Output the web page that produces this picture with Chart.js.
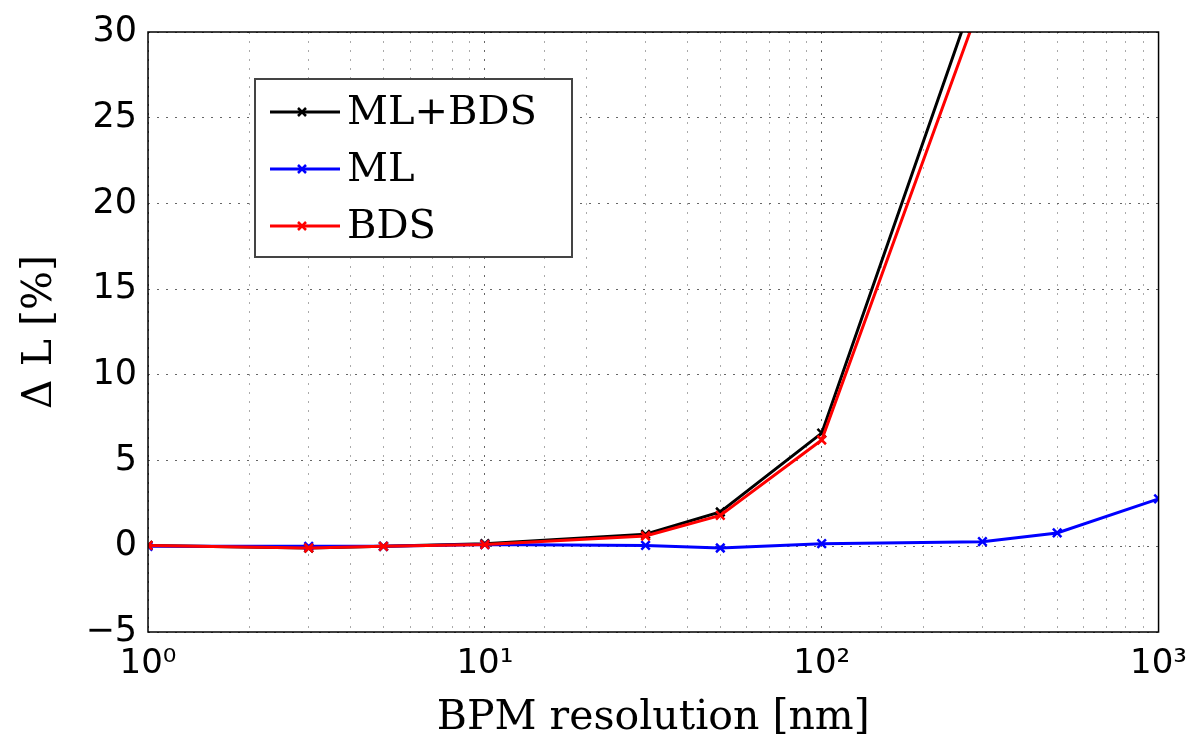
<!DOCTYPE html>
<html>
<head>
<meta charset="utf-8">
<script src="https://cdn.jsdelivr.net/npm/chart.js@4.4.0/dist/chart.umd.min.js"></script>
<style>
  body { margin: 0; background: #fff; }
  #wrap { width: 1199px; height: 748px; }
</style>
</head>
<body>
<div id="wrap"><canvas id="luminosity"></canvas></div>
<script>
// BPM resolution [nm]
const resolution = [1, 3, 5, 10, 30, 50, 100, 300, 500, 1000];
const resolutionBDS = [1, 3, 5, 10, 30, 50, 100, 300];

// luminosity loss [%]
const lossMLBDS = [0.05, -0.1, 0.0, 0.15, 0.7, 2.0, 6.6, 33.5];
const lossML = [0.0, 0.0, 0.0, 0.1, 0.05, -0.1, 0.15, 0.27, 0.78, 2.77];
const lossBDS = [0.05, -0.1, 0.0, 0.1, 0.6, 1.8, 6.2, 32.0];

const yTicks = [-5, 0, 5, 10, 15, 20, 25, 30];
const supers = { 0: '\u2070', 1: '\u00b9', 2: '\u00b2', 3: '\u00b3' };

function points(xs, ys) {
    return ys.map((y, i) => ({ x: xs[i], y: y }));
}

const serif = '"DejaVu Serif", serif';
const sans = '"DejaVu Sans", sans-serif';

// legend inside the plot, drawn like the matlab one
const boxLegend = {
    id: 'boxLegend',
    afterDraw(chart) {
        const ctx = chart.ctx;
        const a = chart.chartArea;
        const x = a.left + 107, y = a.top + 47;
        ctx.save();
        // frame around the plot
        ctx.strokeStyle = '#000';
        ctx.lineWidth = 1.5;
        ctx.strokeRect(a.left, a.top, a.right - a.left, a.bottom - a.top);

        ctx.fillStyle = '#fff';
        ctx.fillRect(x, y, 317, 178);
        ctx.strokeStyle = '#444';
        ctx.lineWidth = 2;
        ctx.strokeRect(x, y, 317, 178);
        ctx.font = '40px ' + serif;
        ctx.textBaseline = 'middle';
        chart.data.datasets.forEach((ds, i) => {
            const ly = y + 33 + i * 57;
            ctx.strokeStyle = ds.borderColor;
            ctx.lineWidth = 3;
            ctx.beginPath();
            ctx.moveTo(x + 15, ly);
            ctx.lineTo(x + 85, ly);
            ctx.stroke();
            ctx.lineWidth = 2.5;
            ctx.beginPath();
            ctx.moveTo(x + 43, ly - 4); ctx.lineTo(x + 51, ly + 4);
            ctx.moveTo(x + 51, ly - 4); ctx.lineTo(x + 43, ly + 4);
            ctx.stroke();
            ctx.fillStyle = '#000';
            ctx.fillText(ds.label, x + 92, ly + 2);
        });
        ctx.restore();
    }
};

const lumi = new Chart(
    document.getElementById('luminosity'),
    config = {
    type: 'line',
    data: {
        datasets: [{
            label: 'ML+BDS',
            data: points(resolutionBDS, lossMLBDS),
            borderColor: '#000000',
            order: 3
        }, {
            label: 'ML',
            data: points(resolution, lossML),
            borderColor: '#0000ff',
            order: 2
        }, {
            label: 'BDS',
            data: points(resolutionBDS, lossBDS),
            borderColor: '#ff0000',
            order: 1
        }]
    },
    options: {
        responsive: true,
        maintainAspectRatio: false,
        animation: false,
        layout: { padding: { left: 0, top: 25, right: 38, bottom: 0 } },
        elements: {
            line: { borderWidth: 3, tension: 0 },
            point: { pointStyle: 'crossRot', radius: 6, borderWidth: 2.5 }
        },
        plugins: {
            legend: { display: false },
            tooltip: { enabled: false }
        },
        scales: {
            x: {
                type: 'logarithmic',
                min: 1,
                max: 1000,
                afterFit: (s) => { s.height = 116; },
                grid: {
                    drawTicks: false,
                    color: (c) => {
                        const v = c.tick ? c.tick.value : 0;
                        return Math.abs(Math.log10(v) % 1) < 1e-6 ? '#666' : '#aaa';
                    }
                },
                border: { display: false, dash: [2, 7] },
                ticks: {
                    autoSkip: false,
                    maxRotation: 0,
                    padding: 12,
                    color: '#000',
                    font: { family: sans, size: 34 },
                    callback: (v) => {
                        const e = Math.log10(v);
                        return Math.abs(e - Math.round(e)) < 1e-6 ? '10' + supers[Math.round(e)] : '';
                    }
                },
                title: {
                    display: true,
                    text: 'BPM resolution [nm]',
                    color: '#000',
                    font: { family: serif, size: 41 },
                    padding: { top: 0, bottom: 5 }
                }
            },
            y: {
                min: -5,
                max: 30,
                afterFit: (s) => { s.width = 148; },
                afterBuildTicks: (s) => { s.ticks = yTicks.map(v => ({ value: v })); },
                grid: { drawTicks: false, color: '#666' },
                border: { display: false, dash: [2, 7] },
                ticks: {
                    padding: 11,
                    color: '#000',
                    font: { family: sans, size: 35 },
                    callback: (v) => String(v).replace('-', '\u2212')
                },
                title: {
                    display: true,
                    text: '\u0394 L [%]',
                    color: '#000',
                    font: { family: serif, size: 41 },
                    padding: { top: 16, bottom: 0 }
                }
            }
        }
    },
    plugins: [boxLegend]
    }
);
</script>
</body>
</html>
